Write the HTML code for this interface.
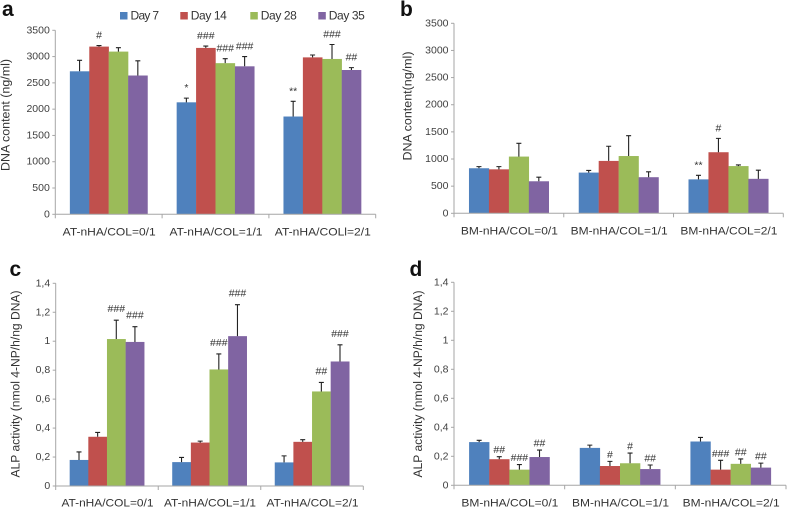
<!DOCTYPE html>
<html lang="en">
<head>
<meta charset="utf-8">
<title>DNA content and ALP activity</title>
<style>
html,body{margin:0;padding:0;background:#fff;width:787px;height:509px;overflow:hidden}
svg{display:block;font-family:"Liberation Sans",sans-serif}
</style>
</head>
<body>
<svg id="figure" width="787" height="509" viewBox="0 0 787 509" xmlns="http://www.w3.org/2000/svg"></svg>
<script>
// Series names and colours
const seriesNames = ['Day 7', 'Day 14', 'Day 28', 'Day 35'];
const seriesColors = ['#4F81BD', '#C0504D', '#9BBB59', '#8064A2'];

// Tick labels
const dnaTicks = [0, 500, 1000, 1500, 2000, 2500, 3000, 3500];
const alpTicks = [0, 0.2, 0.4, 0.6, 0.8, 1, 1.2, 1.4];
const alpTickLabels = ['0', '0,2', '0,4', '0,6', '0,8', '1', '1,2', '1,4'];

// Panel a: one row per group, one column per day
const aCategories = ['AT-nHA/COL=0/1', 'AT-nHA/COL=1/1', 'AT-nHA/COLl=2/1'];
const aValues = [[2720, 3190, 3095, 2640], [2130, 3165, 2875, 2815], [1860, 2985, 2955, 2745]];
const aErrors = [[210, 20, 75, 280], [80, 35, 85, 185], [290, 45, 275, 45]];
const aMarks = [['', '#', '', ''], ['*', '###', '###', '###'], ['**', '', '###', '##']];

// Panel b
const bCategories = ['BM-nHA/COL=0/1', 'BM-nHA/COL=1/1', 'BM-nHA/COL=2/1'];
const bValues = [[830, 810, 1045, 590], [750, 965, 1055, 665], [625, 1125, 870, 635]];
const bErrors = [[30, 50, 245, 75], [40, 270, 375, 100], [75, 255, 20, 160]];
const bMarks = [['', '', '', ''], ['', '', '', ''], ['**', '#', '', '']];

// Panel c
const cCategories = ['AT-nHA/COL=0/1', 'AT-nHA/COL=1/1', 'AT-nHA/COL=2/1'];
const cValues = [[0.18, 0.34, 1.015, 0.995], [0.165, 0.3, 0.805, 1.035], [0.163, 0.305, 0.653, 0.86]];
const cErrors = [[0.055, 0.03, 0.13, 0.105], [0.032, 0.01, 0.107, 0.217], [0.045, 0.015, 0.062, 0.115]];
const cMarks = [['', '', '###', '###'], ['', '', '###', '###'], ['', '', '##', '###']];

// Panel d
const dCategories = ['BM-nHA/COL=0/1', 'BM-nHA/COL=1/1', 'BM-nHA/COL=2/1'];
const dValues = [[0.298, 0.18, 0.108, 0.195], [0.258, 0.133, 0.152, 0.112], [0.302, 0.108, 0.148, 0.122]];
const dErrors = [[0.012, 0.017, 0.035, 0.048], [0.019, 0.032, 0.07, 0.028], [0.028, 0.064, 0.034, 0.031]];
const dMarks = [['', '##', '###', '##'], ['', '#', '#', '##'], ['', '###', '##', '##']];

const NS = 'http://www.w3.org/2000/svg';
const root = document.getElementById('figure');

function make(parent, tag, props, content) {
  const el = document.createElementNS(NS, tag);
  Object.keys(props).forEach(function (k) { el.setAttribute(k, props[k]); });
  if (content !== undefined) el.textContent = content;
  parent.appendChild(el);
  return el;
}

function drawPanel(p) {
  const panel = make(root, 'g', {});
  
  

  const y = function (v) { return p.y0 - (v / p.yMax) * (p.y0 - p.yTop); };
  const groupW = (p.xRight - p.xLeft) / p.categories.length;
  const barW = groupW / 5.5;
  const barX = function (g, s) { return p.xLeft + g * groupW + 0.75 * barW + s * barW; };

  const letter = make(panel, 'text', {x: p.letterX, y: p.letterY, 'font-size': 21, 'font-weight': 'bold', fill: '#111'}, p.letter);
  
  

  const title = make(panel, 'text', {
    transform: 'translate(' + p.titleX + ',' + p.titleY + ') rotate(-90)',
    'text-anchor': 'middle', 'dominant-baseline': 'central', 'font-size': 11.5, fill: '#333',
    textLength: p.titleLen, lengthAdjust: 'spacingAndGlyphs'
  }, p.title);
  
  

  p.values.forEach(function (row, g) {
    row.forEach(function (v, s) {
      const bar = make(panel, 'rect', {x: barX(g, s), y: y(v), width: barW + 0.2, height: p.y0 - y(v), fill: seriesColors[s]});
      
      

      const cx = barX(g, s) + barW / 2;
      const top = y(v + p.errors[g][s]);
      const err = make(panel, 'path', {d: 'M' + cx + ' ' + y(v) + 'V' + top + 'M' + (cx - 2.5) + ' ' + top + 'H' + (cx + 2.5), stroke: '#222', 'stroke-width': 1.1, fill: 'none'});
      
      

      const markText = p.marks[g][s];
      if (markText) {
        const mark = make(panel, 'text', {x: cx, y: top - p.markGap, 'text-anchor': 'middle', 'dominant-baseline': 'central', 'font-size': 10.5, fill: '#333'}, markText);
        
        
      }
    });
  });

  const yAxis = make(panel, 'line', {x1: p.xLeft, x2: p.xLeft, y1: p.yTop, y2: p.y0, stroke: '#a6a6a6', 'stroke-width': 1});
  
  

  const xAxis = make(panel, 'line', {x1: p.xLeft, x2: p.xRight, y1: p.y0, y2: p.y0, stroke: '#a6a6a6', 'stroke-width': 1});
  
  

  p.ticks.forEach(function (t, i) {
    const tick = make(panel, 'line', {x1: p.xLeft - 3, x2: p.xLeft, y1: y(t), y2: y(t), stroke: '#a6a6a6', 'stroke-width': 1});
    
    

    const label = make(panel, 'text', {x: p.xLeft - 5.5, y: y(t), 'text-anchor': 'end', 'dominant-baseline': 'central', 'font-size': 10.5, fill: '#404040'}, p.tickLabels[i]);
    
    
  });

  for (let i = 0; i <= p.categories.length; i++) {
    const tx = p.xLeft + i * groupW;
    const tick = make(panel, 'line', {x1: tx, x2: tx, y1: p.y0, y2: p.y0 + 4, stroke: '#a6a6a6', 'stroke-width': 1});
    
    
  }

  p.categories.forEach(function (c, i) {
    const label = make(panel, 'text', {
      x: p.xLeft + (i + 0.5) * groupW + 0.5, y: p.catY, 'text-anchor': 'middle', 'dominant-baseline': 'central',
      'font-size': 11, fill: '#333', textLength: c.indexOf('COLl') >= 0 ? p.catLen + 3 : p.catLen, lengthAdjust: 'spacingAndGlyphs'
    }, c);
    
    
  });
}

drawPanel({letter: 'a', letterX: 2, letterY: 16, xLeft: 55.3, xRight: 375.7, y0: 214.3, yTop: 30.3, yMax: 3500,
  ticks: dnaTicks, tickLabels: dnaTicks.map(String), categories: aCategories, values: aValues, errors: aErrors, marks: aMarks,
  markGap: 10, title: 'DNA content (ng/ml)', titleX: 6.7, titleY: 115, titleLen: 112, catY: 232.7, catLen: 93});

drawPanel({letter: 'b', letterX: 400, letterY: 16, xLeft: 454, xRight: 783.3, y0: 213.3, yTop: 23.3, yMax: 3500,
  ticks: dnaTicks, tickLabels: dnaTicks.map(String), categories: bCategories, values: bValues, errors: bErrors, marks: bMarks,
  markGap: 10, title: 'DNA content(ng/ml)', titleX: 408.5, titleY: 106, titleLen: 109, catY: 231.7, catLen: 97});

drawPanel({letter: 'c', letterX: 9.5, letterY: 276, xLeft: 55.7, xRight: 363.3, y0: 486, yTop: 283.3, yMax: 1.4,
  ticks: alpTicks, tickLabels: alpTickLabels, categories: cCategories, values: cValues, errors: cErrors, marks: cMarks,
  markGap: 11, title: 'ALP activity (nmol 4-NP/h/ng DNA)', titleX: 16.5, titleY: 384, titleLen: 187, catY: 503.3, catLen: 92});

drawPanel({letter: 'd', letterX: 409.5, letterY: 276, xLeft: 454, xRight: 786, y0: 485.3, yTop: 282.3, yMax: 1.4,
  ticks: alpTicks, tickLabels: alpTickLabels, categories: dCategories, values: dValues, errors: dErrors, marks: dMarks,
  markGap: 6.5, title: 'ALP activity (nmol 4-NP/h/ng DNA)', titleX: 419, titleY: 384, titleLen: 187, catY: 503.3, catLen: 97});

const legend = make(root, 'g', {});


const legendSwatchX = [120, 180.3, 250.3, 318.3];
seriesNames.forEach(function (name, i) {
  const swatch = make(legend, 'rect', {x: legendSwatchX[i], y: 12, width: 7.5, height: 7.5, fill: seriesColors[i]});
  
  

  const text = make(legend, 'text', {x: legendSwatchX[i] + 10.5, y: 15.5, 'dominant-baseline': 'central', 'font-size': 12, fill: '#333', textLength: i === 0 ? 28.5 : 36, lengthAdjust: 'spacing'}, name);
  
  
});
</script>
</body>
</html>
